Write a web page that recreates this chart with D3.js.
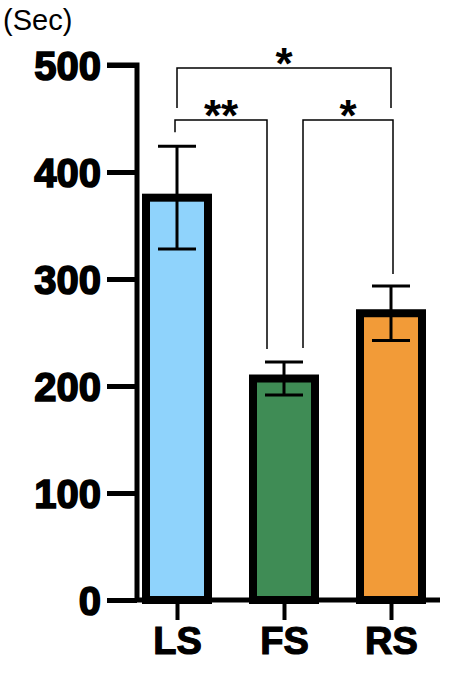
<!DOCTYPE html>
<html><head><meta charset="utf-8">
<script src="https://cdn.jsdelivr.net/npm/d3@7"></script>
<style>body{margin:0;background:#fff}text{font-family:Arial,"Liberation Sans",sans-serif}</style>
</head><body><svg id="c" width="468" height="675"></svg>
<script>
const categories = ["LS","FS","RS"];
const means = [376, 207, 268];
const errors = [48, 15.5, 25.5];
const colors = ["#8fd3fc","#3f8c55","#f29b38"];
const yTicks = [0,100,200,300,400,500];
const svg = d3.select("#c");
const y = d3.scaleLinear().domain([0,500]).range([600,65]);
const x = d3.scalePoint().domain(categories).range([177,391]);
const axisX = 137, barW = 62;

const ya = svg.append("g").attr("transform",`translate(${axisX},0)`)
  .call(d3.axisLeft(y).tickValues(yTicks).tickSize(30).tickPadding(6));
ya.select(".domain").attr("stroke-width",5).attr("d",`M-30,${y(500)}H0V${y(0)}`);
ya.selectAll(".tick line").attr("stroke-width",5);
ya.selectAll("text").attr("font-size",40).attr("font-weight",900).attr("fill","#000")
  .attr("stroke","#000").attr("stroke-width",1.6).attr("dy","0.36em");

const xa = svg.append("g").attr("transform",`translate(0,${y(0)})`)
  .call(d3.axisBottom(x).tickSize(20).tickPadding(2));
xa.select(".domain").attr("stroke-width",5).attr("d",`M${axisX},0H440`);
xa.selectAll(".tick line").attr("stroke-width",4);
xa.selectAll("text").attr("font-size",38).attr("font-weight",900).attr("fill","#000")
  .attr("stroke","#000").attr("stroke-width",1.2).attr("dy","0.85em");

svg.append("text").attr("x",3).attr("y",30).attr("font-size",29).text("(Sec)");

categories.forEach((c,i)=>{
  svg.append("rect").attr("x",x(c)-barW/2).attr("y",y(means[i]))
    .attr("width",barW).attr("height",y(0)-y(means[i]))
    .attr("fill",colors[i]).attr("stroke","#000").attr("stroke-width",8);
  const g = svg.append("g").attr("stroke","#000").attr("stroke-width",3);
  g.append("line").attr("x1",x(c)).attr("x2",x(c)).attr("y1",y(means[i]+errors[i])).attr("y2",y(means[i]-errors[i]));
  [means[i]+errors[i], means[i]-errors[i]].forEach(v=>
    g.append("line").attr("x1",x(c)-19).attr("x2",x(c)+19).attr("y1",y(v)).attr("y2",y(v)));
});

const bg = svg.append("g").attr("fill","none").attr("stroke","#000").attr("stroke-width",1.5);
function bracket(xa_,xb,yl,ya_,yb,label){
  bg.append("path").attr("d",`M${xa_},${ya_}V${yl}H${xb}V${yb}`);
  svg.append("text").attr("x",(xa_+xb)/2).attr("y",yl-4).attr("text-anchor","middle")
    .attr("font-size",44).attr("font-weight","bold").attr("dy","0.35em").text(label);
}
bracket(x("LS")-2, x("FS")-17, 120, y(means[0]+errors[0]) - 14, y(means[1]+errors[1])-13, "**");
bracket(x("FS")+19, x("RS")+2, 120, y(means[1]+errors[1])-14, y(means[2]+errors[2])-12, "*");
bracket(x("LS"), x("RS"), 68, 108, 108, "*");
</script></body></html>
